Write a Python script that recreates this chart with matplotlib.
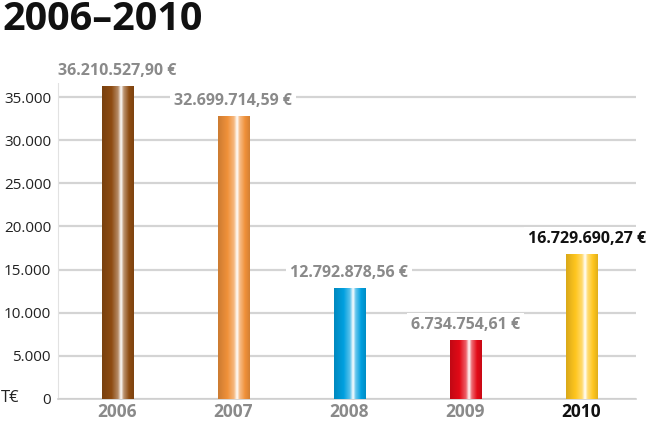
import numpy as np
import matplotlib
matplotlib.use("Agg")
import matplotlib.pyplot as plt
from matplotlib.colors import LinearSegmentedColormap, to_rgb

years = ['2006', '2007', '2008', '2009', '2010']
values = [36210527.90, 32699714.59, 12792878.56, 6734754.61, 16729690.27]
value_labels = ['36.210.527,90 €', '32.699.714,59 €', '12.792.878,56 €',
                '6.734.754,61 €', '16.729.690,27 €']
bar_colors = ['#8e4c12', '#f0913a', '#00a0e0', '#e30a17', '#ffc61e']
ticks_k = [0, 5000, 10000, 15000, 20000, 25000, 30000, 35000]
tick_labels = ['0', '5.000', '10.000', '15.000', '20.000', '25.000', '30.000', '35.000']

plt.rcParams['font.family'] = ['Open Sans', 'DejaVu Sans']

fig = plt.figure(figsize=(6.56, 4.24), dpi=100)
ax = fig.add_axes([58/656, 1 - 399/424, (636 - 58)/656, (399 - 54)/424])

vals_k = [v / 1000 for v in values]
x = np.arange(len(years))
w = 0.27

def shade(c, f):
    r, g, b = to_rgb(c)
    return (r * f, g * f, b * f)

def tint(c, f):
    r, g, b = to_rgb(c)
    return (r + (1 - r) * f, g + (1 - g) * f, b + (1 - b) * f)

grad = np.linspace(0, 1, 200).reshape(1, -1)
for xi, v, c in zip(x, vals_k, bar_colors):
    cmap = LinearSegmentedColormap.from_list('b', [
        (0.0, shade(c, 0.85)), (0.3, c), (0.5, tint(c, 0.35)),
        (0.6, (1, 1, 1)), (0.68, tint(c, 0.4)), (0.85, c), (1.0, shade(c, 0.88))])
    ax.imshow(grad, cmap=cmap, aspect='auto', extent=(xi - w/2, xi + w/2, 0, v),
              zorder=3, interpolation='bilinear')

for i, (xi, v, lab) in enumerate(zip(x, vals_k, value_labels)):
    last = i == len(years) - 1
    ax.annotate(lab, (xi, v), xytext=(6 if last else 0, 16), textcoords='offset pixels',
                ha='center', va='center', fontsize=11.5, fontweight='bold',
                color='#111111' if last else '#8a8a8a', zorder=4,
                bbox=dict(boxstyle='square,pad=0.25', fc='white', ec='none'))

ax.set_xlim(-0.51, 4.47)
ax.set_ylim(0, 40000)
ax.set_yticks(ticks_k)
ax.set_yticklabels(tick_labels, fontsize=11, color='#222222')
ax.set_xticks(x)
ax.set_xticklabels(years, fontsize=12.5, fontweight='bold', color='#8a8a8a')
ax.get_xticklabels()[-1].set_color('#111111')
ax.tick_params(axis='y', length=0, pad=5)
ax.tick_params(axis='x', length=0, pad=3)
ax.yaxis.grid(True, color='#d4d4d4', lw=1.6, zorder=0)
ax.set_axisbelow(True)
for s in ['top', 'right']:
    ax.spines[s].set_visible(False)
ax.spines['left'].set_color('#e2e2e2')
ax.spines['left'].set_bounds(0, 36600)
ax.spines['bottom'].set_color('#cfcfcf')
ax.spines['bottom'].set_linewidth(1.2)

fig.text(1 / 656, 1 - 398/424, 'T€', fontsize=12, color='#222222', va='center', ha='left')
fig.text(2 / 656, 1 - 20/424, '2006–2010', fontsize=28.5, fontweight='bold', color='#111111',
         va='center', ha='left')

fig.savefig('out.png', dpi=100)
